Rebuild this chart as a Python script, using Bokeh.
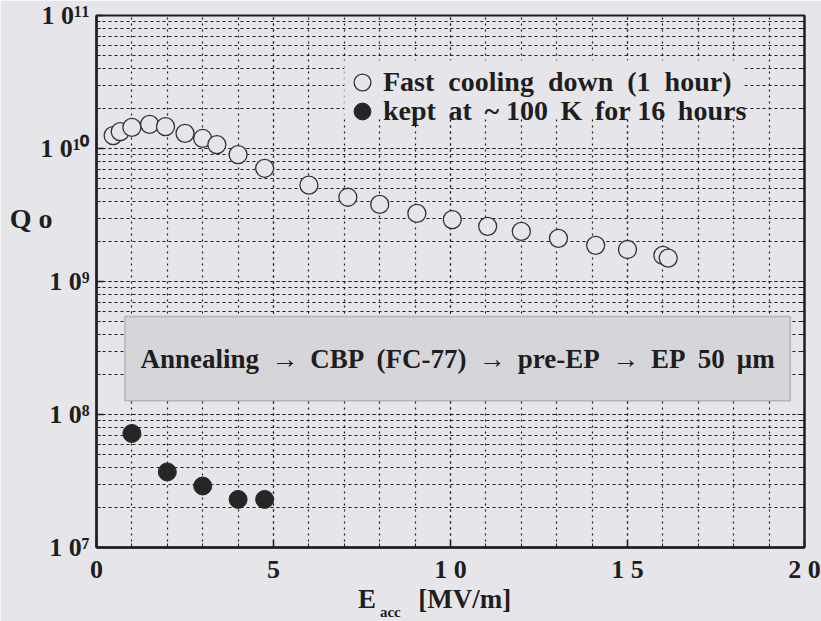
from bokeh.plotting import figure
from bokeh.models import (Range1d, FixedTicker, Legend, LegendItem, Label,
                          BoxAnnotation, LogAxis, LinearAxis)
from bokeh.embed import file_html
from bokeh.resources import INLINE

# ---- data ----
fast_e = [0.47, 0.67, 1.0, 1.5, 1.95, 2.5, 3.0, 3.4, 4.0, 4.75, 6.0, 7.1,
          8.0, 9.05, 10.05, 11.05, 12.0, 13.05, 14.1, 15.0, 16.0, 16.15]
fast_q = [1.25e10, 1.34e10, 1.44e10, 1.52e10, 1.46e10, 1.30e10, 1.19e10,
          1.07e10, 9.0e9, 7.1e9, 5.3e9, 4.3e9, 3.8e9, 3.25e9, 2.92e9, 2.6e9,
          2.38e9, 2.11e9, 1.87e9, 1.74e9, 1.57e9, 1.50e9]
slow_e = [1.0, 2.0, 3.0, 4.0, 4.75]
slow_q = [7.2e7, 3.7e7, 2.9e7, 2.3e7, 2.3e7]

fast_label = "Fast\u2002cooling\u2002down\u2002(1\u2002hour)"
slow_label = "kept \u2009at \u2009~ 100 \u2009K \u2009for 16 \u2009hours"
process_text = ("Annealing\u2009 \u2192\u2009 CBP\u2009 (FC-77)\u2009 \u2192\u2009 "
                "pre-EP\u2009 \u2192\u2009 EP\u2009 50\u2009 \u03bcm")

x_ticks = [0, 5, 10, 15, 20]
x_tick_labels = ["0", "5", "1 0", "1 5", "2 0"]
x_minor = list(range(0, 21))
y_ticks = [10**7, 10**8, 10**9, 10**10, 10**11]
y_tick_labels = ["1 0\u2077", "1 0\u2078", "1 0\u2079", "1 0\u00b9\u2070", "1 0\u00b9\u00b9"]
y_minor = [m * 10**e for e in range(7, 11) for m in range(1, 10)]

# axis titles: text and where along the axis each piece is centred
y_title = {3e9: "Q o"}
x_title_main = {7.64: "E", 10.4: "[MV/m]"}
x_title_sub = {8.3: "acc"}

BG = "#e6e6ea"
FONT = "Liberation Serif"
INK = "#1e1e1e"

x_ticker = FixedTicker(ticks=x_ticks, minor_ticks=x_minor)
y_ticker = FixedTicker(ticks=y_ticks, minor_ticks=y_minor)

p = figure(frame_width=708, frame_height=532, min_border_left=96,
           min_border_top=15, min_border_right=17, min_border_bottom=74,
           x_range=Range1d(0, 20), y_range=Range1d(1e7, 1e11),
           y_axis_type="log", output_backend="svg", toolbar_location=None)
p.background_fill_color = BG
p.border_fill_color = BG
p.outline_line_color = INK
p.outline_line_width = 2

xax = p.xaxis[0]
yax = p.yaxis[0]
xax.ticker = x_ticker
xax.major_label_overrides = dict(zip(x_ticks, x_tick_labels))
yax.ticker = y_ticker
yax.major_label_overrides = dict(zip(y_ticks, y_tick_labels))
for ax in (xax, yax):
    ax.axis_line_color = INK
    ax.axis_line_width = 2.5
    ax.major_tick_line_color = INK
    ax.minor_tick_line_color = INK
    ax.major_tick_line_width = 1.5
    ax.major_tick_in = 7
    ax.major_tick_out = 0
    ax.minor_tick_in = 4
    ax.minor_tick_out = 0
    ax.major_label_text_font = FONT
    ax.major_label_text_font_style = "bold"
    ax.major_label_text_font_size = "26px"
    ax.major_label_text_color = INK
xax.major_label_standoff = 7
yax.major_label_standoff = 7

rax = LogAxis(ticker=y_ticker,
              axis_line_color=INK, axis_line_width=2,
              major_tick_in=7, major_tick_out=0, minor_tick_in=4, minor_tick_out=0,
              major_tick_line_color=INK, minor_tick_line_color=INK,
              major_label_text_font_size="1px", major_label_text_alpha=0,
              major_label_standoff=0)
p.add_layout(rax, "right")


def title_axis(cls, labels, size, standoff):
    ticks = list(labels.keys())
    return cls(ticker=FixedTicker(ticks=ticks, minor_ticks=[]),
               major_label_overrides=labels,
               axis_line_color=None, major_tick_line_color=None,
               minor_tick_line_color=None, major_tick_in=0, major_tick_out=0,
               minor_tick_in=0, minor_tick_out=0,
               major_label_standoff=standoff, major_label_text_font=FONT,
               major_label_text_font_style="bold",
               major_label_text_font_size=size, major_label_text_color=INK)


p.add_layout(title_axis(LogAxis, y_title, "28px", -15), "left")
p.add_layout(title_axis(LinearAxis, x_title_main, "27px", -3), "below")
p.add_layout(title_axis(LinearAxis, x_title_sub, "15px", -13), "below")

# grids
xg = p.xgrid[0]
yg = p.ygrid[0]
xg.ticker = x_ticker
yg.ticker = y_ticker
for g, dash in ((xg, "2 4"), (yg, "3 3")):
    g.grid_line_color = INK
    g.grid_line_dash = dash
    g.grid_line_width = 1.2
    g.minor_grid_line_color = INK
    g.minor_grid_line_dash = dash
    g.minor_grid_line_width = 1.2

# data
r_fast = p.scatter(fast_e, fast_q, size=18, marker="circle",
                   fill_color=BG, line_color="#333333", line_width=1.3)
r_slow = p.scatter(slow_e, slow_q, size=18, marker="circle",
                   fill_color="#262626", line_color="#262626")

# blank area behind the legend text
p.add_layout(BoxAnnotation(left=7.0, right=18.3, bottom=1.75e10, top=4.6e10,
                           fill_color=BG, fill_alpha=1, line_color=None))

# legend (one legend per entry so the rows can sit close together)
leg_style = dict(glyph_width=42, glyph_height=42, label_height=29,
                 padding=0, margin=0, label_standoff=0,
                 background_fill_alpha=0, border_line_color=None,
                 label_text_font=FONT, label_text_font_style="bold",
                 label_text_font_size="28px", label_text_color=INK)
leg1 = Legend(items=[LegendItem(label=fast_label, renderers=[r_fast])],
              location=(245, 444), **leg_style)
leg2 = Legend(items=[LegendItem(label=slow_label, renderers=[r_slow])],
              location=(245, 415), **leg_style)
p.add_layout(leg1)
p.add_layout(leg2)

# process box
box = BoxAnnotation(left=0.8, right=19.6, bottom=1.27e8, top=5.46e8,
                    fill_color="#d6d6da", fill_alpha=1,
                    line_color="#555555", line_width=1.5)
p.add_layout(box)
p.add_layout(Label(x=10.2, y=2.63e8, text=process_text, text_align="center",
                   text_baseline="middle", text_font=FONT,
                   text_font_style="bold", text_font_size="27px",
                   text_color=INK))

open("out.html", "w").write(file_html(p, INLINE))
